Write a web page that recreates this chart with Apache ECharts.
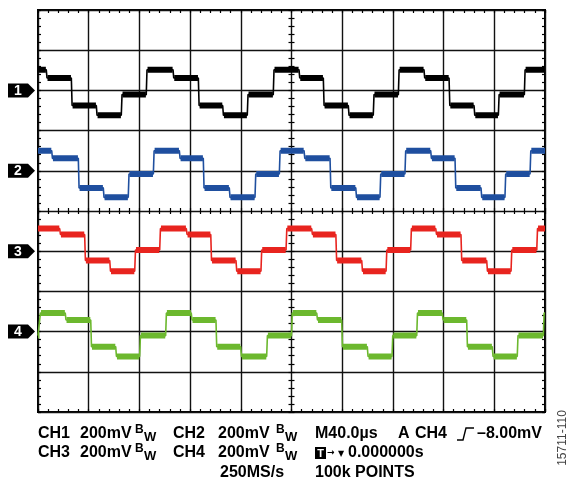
<!DOCTYPE html>
<html>
<head>
<meta charset="utf-8">
<script src="https://cdn.jsdelivr.net/npm/echarts@6/dist/echarts.min.js"></script>
<style>
  html, body { margin: 0; padding: 0; background: #fff; }
  #main { width: 569px; height: 485px; }
</style>
</head>
<body>
<div id="main"></div>
<script>
// scope screen: 10 div x 10 div, 40us/div, 200mV/div
var timeMin = -200, timeMax = 200, timeDiv = 40;
var voltMin = -1000, voltMax = 1000, voltDiv = 200;

var channelNames = ['1', '2', '3', '4'];
var channelColors = ['#000000', '#1f4f9f', '#e8241f', '#6cb82e'];
// ground marker of every channel (mV on screen)
var channelOffsets = [600, 200, -200, -600];

// plateau levels in mV, in the order high, mid-high, mid-low, low, mid
var ch1Levels = [103, 62, -75, -124, -21];
var ch2Levels = [100, 62, -85, -132, -16];
var ch3Levels = [113, 83, -46, -100, 6];
var ch4Levels = [92, 58, -75, -124, -20];
// level index at the left edge of the screen
var startLevel = [0, 0, 0, 4];

// step edge times in us
var ch1Edges = [-193.5, -173.7, -154, -134.3, -114.6, -93.5, -73.5, -54.3, -34.9, -14.4,
    5.9, 25.1, 44.8, 64.5, 84.3, 104.5, 124.3, 144, 163.2, 183.7];
var ch2Edges = [-189.2, -168.2, -148.5, -128.8, -109, -88.5, -69.6, -49.1, -28.8, -9.6,
    9.9, 30.4, 50.7, 69.8, 89.5, 109.8, 129, 149.5, 168.4, 188.2];
var ch3Edges = [-182.9, -163.2, -143.4, -123.7, -104, -83, -63.7, -43.8, -24.1, -4.3,
    15.9, 35, 55.4, 74.6, 94, 113.8, 133.7, 154, 173.2, 193.5];
var ch4Edges = [-198.7, -178.5, -158.4, -138.7, -119.8, -99.3, -79.1, -59.6, -40.1, -19.6,
    0, 19.9, 39.6, 59.8, 79.3, 98.8, 119, 138.2, 158.4, 178.1, 198.7];

var allLevels = [ch1Levels, ch2Levels, ch3Levels, ch4Levels];
var allEdges = [ch1Edges, ch2Edges, ch3Edges, ch4Edges];

// thin trace through every step
function buildTrace(levels, edges, offset, start) {
    var idx = start;
    var pts = [[timeMin, offset + levels[idx]]];
    for (var i = 0; i < edges.length; i++) {
        var t = edges[i];
        pts.push([t, offset + levels[idx]]);
        idx = (idx + 1) % levels.length;
        pts.push([Math.min(t + 0.6, timeMax), offset + levels[idx]]);
    }
    pts.push([timeMax, offset + levels[idx]]);
    return pts;
}

// thick noisy band on each plateau, broken at the edges
function buildBand(levels, edges, offset, start) {
    var idx = start;
    var pts = [];
    var from = timeMin;
    for (var i = 0; i <= edges.length; i++) {
        var to = i < edges.length ? edges[i] : timeMax;
        var a = from === timeMin ? from : from + 1;
        var b = to === timeMax ? to : to - 0.3;
        if (b > a) {
            pts.push([a, offset + levels[idx]]);
            pts.push([b, offset + levels[idx]]);
            pts.push([b, '-']);
        }
        if (i < edges.length) idx = (idx + 1) % levels.length;
        from = to;
    }
    return pts;
}

var series = [];
for (var c = 0; c < 4; c++) {
    series.push({
        type: 'line', showSymbol: false, silent: true,
        data: buildBand(allLevels[c], allEdges[c], channelOffsets[c], startLevel[c]),
        lineStyle: { color: channelColors[c], width: 6, cap: 'butt' },
        connectNulls: false
    });
    series.push({
        type: 'line', showSymbol: false, silent: true,
        data: buildTrace(allLevels[c], allEdges[c], channelOffsets[c], startLevel[c]),
        lineStyle: { color: channelColors[c], width: 1.6 }
    });
}

var tickStyle = { color: '#000', width: 1.2 };
function xAxis(position, offset, inside, grid) {
    return {
        type: 'value', min: timeMin, max: timeMax, interval: timeDiv,
        position: position, offset: offset,
        axisLine: { show: false, onZero: false },
        axisLabel: { show: false },
        axisTick: { show: true, inside: inside, length: 3, lineStyle: tickStyle },
        minorTick: { show: true, splitNumber: 5, length: 3, lineStyle: tickStyle },
        splitLine: { show: grid, lineStyle: { color: '#111', width: 1.4 } }
    };
}
function yAxis(position, offset, inside, grid) {
    return {
        type: 'value', min: voltMin, max: voltMax, interval: voltDiv,
        position: position, offset: offset,
        axisLine: { show: false, onZero: false },
        axisLabel: { show: false },
        axisTick: { show: true, inside: inside, length: 3, lineStyle: tickStyle },
        minorTick: { show: true, splitNumber: 5, length: 3, lineStyle: tickStyle },
        splitLine: { show: grid, lineStyle: { color: '#111', width: 1.4 } }
    };
}

var chart = echarts.init(document.getElementById('main'), null, { renderer: 'canvas' });
chart.setOption({
    animation: false,
    backgroundColor: '#fff',
    grid: { left: 38, right: 24, top: 10, bottom: 73, show: true, borderColor: '#000', borderWidth: 2 },
    xAxis: [
        xAxis('bottom', 0, true, true),
        xAxis('top', 0, true, false),
        xAxis('bottom', -201, true, false),
        xAxis('bottom', -201, false, false)
    ],
    yAxis: [
        yAxis('left', 0, true, true),
        yAxis('right', 0, true, false),
        yAxis('left', -253.5, true, false),
        yAxis('left', -253.5, false, false)
    ],
    series: series
});

// channel ground markers on the left, and the readout text under the screen
var graphics = [];
for (var k = 0; k < 4; k++) {
    var py = chart.convertToPixel({ yAxisIndex: 0 }, channelOffsets[k]);
    graphics.push({
        type: 'polygon', silent: true,
        shape: { points: [[8, py - 7], [28, py - 7], [35, py], [28, py + 7], [8, py + 7]] },
        style: { fill: '#000' }
    });
    graphics.push({
        type: 'text', silent: true,
        style: { text: channelNames[k], x: 18, y: py + 0.5, align: 'center', verticalAlign: 'middle',
            font: 'bold 14px "Liberation Sans", Arial, sans-serif', fill: '#fff' }
    });
}

var fontMain = 'bold 16px "Liberation Sans", Arial, sans-serif';
function txt(s, x, y, font) {
    graphics.push({
        type: 'text', silent: true,
        style: { text: s, x: x, y: y, verticalAlign: 'middle', font: font || fontMain, fill: '#000' }
    });
}
function bw(x, y) {
    txt('B', x, y - 4, 'bold 12px "Liberation Sans", Arial, sans-serif');
    txt('W', x + 9, y + 3, 'bold 13px "Liberation Sans", Arial, sans-serif');
}

var row1 = 434, row2 = 453, row3 = 473;
txt('CH1', 38, row1); txt('200mV', 80, row1); bw(135, row1);
txt('CH2', 173, row1); txt('200mV', 218, row1); bw(276, row1);
txt('M40.0µs', 315, row1); txt('A', 398, row1); txt('CH4', 415, row1);
graphics.push({
    type: 'polyline', silent: true,
    shape: { points: [[457, row1 + 6], [463, row1 + 6], [466, row1 - 6], [474, row1 - 6]] },
    style: { stroke: '#000', lineWidth: 1.4, fill: null }
});
txt('–8.00mV', 477, row1);

txt('CH3', 38, row2); txt('200mV', 80, row2); bw(135, row2);
txt('CH4', 173, row2); txt('200mV', 218, row2); bw(276, row2);
graphics.push({
    type: 'rect', silent: true,
    shape: { x: 315, y: row2 - 6, width: 11, height: 12 },
    style: { fill: '#000' }
});
graphics.push({
    type: 'text', silent: true,
    style: { text: 'T', x: 320.5, y: row2 + 0.5, align: 'center', verticalAlign: 'middle',
        font: 'bold 11px "Liberation Sans", Arial, sans-serif', fill: '#fff' }
});
txt('→', 327, row2, 'bold 9px "DejaVu Sans", sans-serif');
txt('▼', 338, row2 + 1, '8px "DejaVu Sans", sans-serif');
txt('0.000000s', 348, row2);

txt('250MS/s', 220, row3);
txt('100k POINTS', 315, row3);

graphics.push({
    type: 'text', silent: true, x: 563, y: 438, rotation: Math.PI / 2,
    style: { text: '15711-110', x: 0, y: 0, align: 'center', verticalAlign: 'middle',
        font: '12px "Liberation Sans", Arial, sans-serif', fill: '#444' }
});

chart.setOption({ graphic: graphics });
</script>
</body>
</html>
